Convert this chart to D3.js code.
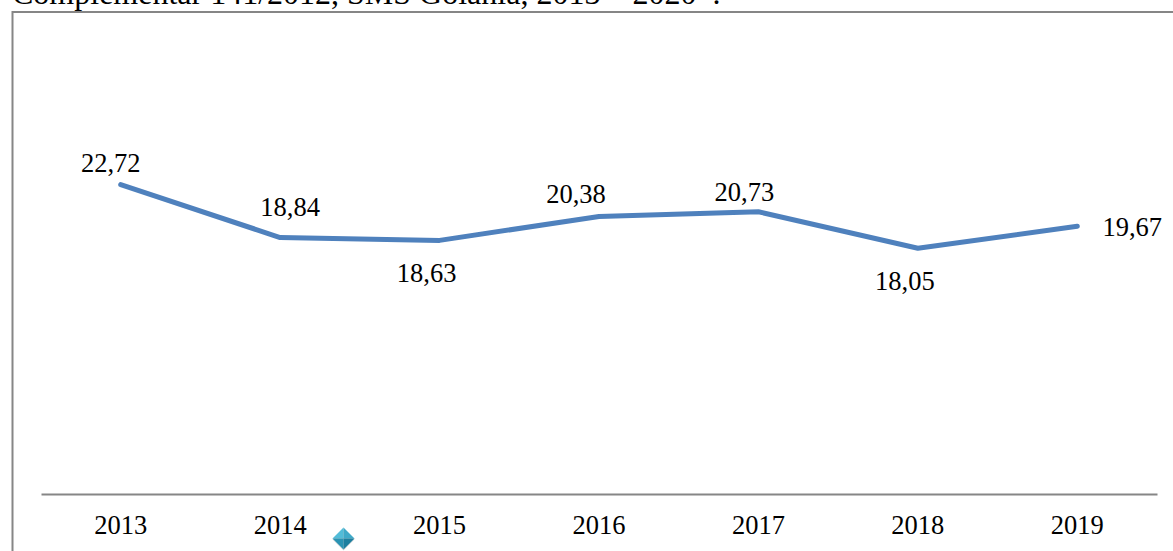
<!DOCTYPE html>
<html><head><meta charset="utf-8">
<script src="https://cdn.jsdelivr.net/npm/d3@7"></script>
<style>html,body{margin:0;padding:0;background:#fff;overflow:hidden}svg{display:block}text{font-family:"Liberation Serif",serif;fill:#000}</style>
</head><body><div id="c"></div>
<script>
const years=["2013","2014","2015","2016","2017","2018","2019"];
const rates=[22.72,18.84,18.63,20.38,20.73,18.05,19.67];
const labels=["22,72","18,84","18,63","20,38","20,73","18,05","19,67"];
const titleLine="Complementar 141/2012, SMS Goiânia, 2013 – 2020*.";
const labelOffsets=[[-10,-13],[10,-21.5],[-13,42],[-23,-14],[-14,-11],[-13,42],[55,10]];
const W=1173,H=551;
const svg=d3.select("#c").append("svg").attr("width",W).attr("height",H);
const x=d3.scaleBand().domain(years).range([41,1157]);
const y=d3.scaleLinear().domain([0,25]).range([494.5,153.5]);
svg.append("text").attr("x",12).attr("y",4).attr("font-size",32).text(titleLine);
svg.append("rect").attr("x",12.5).attr("y",12).attr("width",W).attr("height",H).attr("fill","none").attr("stroke","#868686").attr("stroke-width",2);
const axis=svg.append("g").attr("transform","translate(0,494)").call(d3.axisBottom(x).tickSize(0).tickPadding(21));
axis.select(".domain").attr("stroke","#868686").attr("stroke-width",2);
axis.selectAll("text").attr("font-size",26.5).attr("font-family","Liberation Serif").attr("fill","#000");
const cx=d=>x(d)+x.bandwidth()/2;
svg.append("path").datum(rates).attr("fill","none").attr("stroke","#4f81bd").attr("stroke-width",5).attr("stroke-linecap","round").attr("stroke-linejoin","round")
 .attr("d",d3.line().x((d,i)=>cx(years[i])).y(d=>y(d)));
svg.selectAll(".lab").data(rates).join("text").attr("class","lab").attr("text-anchor","middle").attr("font-size",26.5)
 .attr("x",(d,i)=>cx(years[i])+labelOffsets[i][0]).attr("y",(d,i)=>y(d)+labelOffsets[i][1]).text((d,i)=>labels[i]);
// small diamond ornament
const g=svg.append("g").attr("transform","translate(343.5,538.5)");
const facets=[["-11,0 0,-11 0,0","#52bcd8"],["11,0 0,-11 0,0","#3fa9c8"],["-11,0 0,11 0,0","#2a93b3"],["11,0 0,11 0,0","#1d7f9f"]];
g.append("polygon").attr("points","-11,1 0,12 11,1 0,-9").attr("fill","#999").attr("opacity",0.35);
facets.forEach(p=>g.append("polygon").attr("points",p[0]).attr("fill",p[1]));
</script></body></html>
